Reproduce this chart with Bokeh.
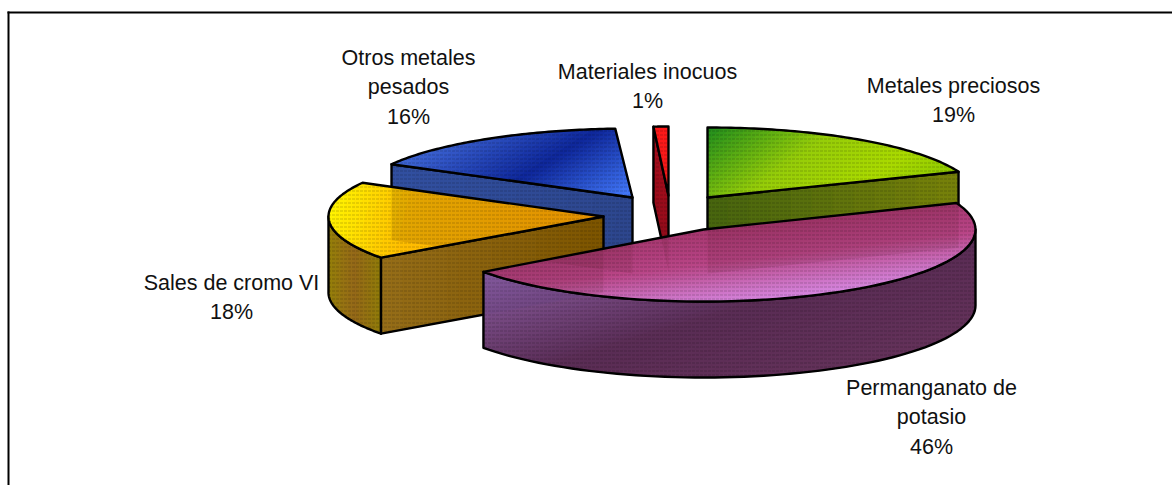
import numpy as np
from bokeh.plotting import figure
from bokeh.embed import file_html
from bokeh.resources import INLINE
from bokeh.core.properties import value
from bokeh.models import Range1d

categories = ["Metales preciosos", "Permanganato de potasio", "Sales de cromo VI",
              "Otros metales pesados", "Materiales inocuos"]
values = [19, 46, 18, 16, 1]
label_lines = [["Metales preciosos"], ["Permanganato de", "potasio"], ["Sales de cromo VI"],
               ["Otros metales", "pesados"], ["Materiales inocuos"]]

W, H = 1172, 485
p = figure(width=W, height=H, output_backend="svg", toolbar_location=None,
           x_range=Range1d(0, W), y_range=Range1d(H, 0), min_border=0)
p.axis.visible = False
p.grid.visible = False
p.outline_line_color = None
p.background_fill_color = "white"
p.border_fill_color = "white"

DEPTH = 76
APEX = [(707, 197), (703, 229), (603, 216), (632, 197), (668, 195)]
RX = [270, 272, 275, 275, 240]
RY = [70, 72, 70, 69, 69]

cum = np.cumsum([0] + values) / sum(values) * 2 * np.pi
A0, A1 = cum[:-1], cum[1:]


def rim(k, a, b, n=70):
    t = np.linspace(a, b, n)
    return np.column_stack([APEX[k][0] + RX[k] * np.sin(t), APEX[k][1] - RY[k] * np.cos(t)])


def down(pts, d=DEPTH):
    return np.asarray(pts) + [0, d]


def half_clip(poly, n, c, keep_ge=True):
    if len(poly) == 0:
        return poly
    s = poly @ n - c
    if not keep_ge:
        s = -s
    out = []
    m = len(poly)
    for i in range(m):
        a, b = poly[i], poly[(i + 1) % m]
        sa, sb = s[i], s[(i + 1) % m]
        if sa >= 0:
            out.append(a)
        if sa * sb < 0:
            out.append(a + (b - a) * sa / (sa - sb))
    return np.array(out) if out else np.zeros((0, 2))


def clip_convex(subject, clip):
    clip = np.asarray(clip, float)
    area = np.sum(clip[:, 0] * np.roll(clip[:, 1], -1) - np.roll(clip[:, 0], -1) * clip[:, 1])
    res = np.asarray(subject, float)
    for i in range(len(clip)):
        a, b = clip[i], clip[(i + 1) % len(clip)]
        e = b - a
        if np.hypot(*e) < 1e-9:
            continue
        n = np.array([-e[1], e[0]]) * (1 if area > 0 else -1)
        res = half_clip(res, n, n @ a)
        if len(res) == 0:
            break
    return res


def gradient(poly, direction, stops, bands=36):
    poly = np.asarray(poly, float)
    d = np.asarray(direction, float)
    d = d / np.hypot(*d)
    proj = poly @ d
    lo, hi = proj.min(), proj.max()
    edges = np.linspace(lo, hi, bands + 1)
    ts = [s[0] for s in stops]
    mid = stops[len(stops) // 2][1]
    p.patch(poly[:, 0].tolist(), poly[:, 1].tolist(), fill_color="#%02x%02x%02x" % tuple(mid),
            line_alpha=0)
    xs, ys, cs = [], [], []
    for i in range(bands):
        piece = half_clip(poly, d, edges[i])
        piece = half_clip(piece, d, edges[i + 1], keep_ge=False)
        if len(piece) < 3:
            continue
        t = ((edges[i] + edges[i + 1]) / 2 - lo) / max(hi - lo, 1e-6)
        col = [int(np.interp(t, ts, [s[1][j] for s in stops])) for j in range(3)]
        xs.append(piece[:, 0].tolist())
        ys.append(piece[:, 1].tolist())
        cs.append("#%02x%02x%02x" % tuple(col))
    p.patches(xs, ys, fill_color=cs, line_color=cs, line_width=1)
    texture(poly)


def texture(poly):
    p.patch(poly[:, 0].tolist(), poly[:, 1].tolist(), fill_alpha=0, line_alpha=0,
            hatch_pattern="horizontal_dash", hatch_color="#000000", hatch_alpha=0.2,
            hatch_scale=4, hatch_weight=1)


def outline(poly):
    poly = np.asarray(poly)
    p.patch(poly[:, 0].tolist(), poly[:, 1].tolist(), fill_alpha=0,
            line_color="black", line_width=2.4, line_join="round")


def ghost(poly, alpha=0.13, color="#301000"):
    if len(poly) >= 3:
        p.patch(poly[:, 0].tolist(), poly[:, 1].tolist(), fill_color=color, fill_alpha=alpha,
                line_alpha=0)


tops, radial_start, radial_end = [], [], []
for k in range(len(values)):
    ap = np.array([APEX[k]], float)
    arc = rim(k, A0[k], A1[k])
    tops.append(np.vstack([ap, arc]))
    radial_start.append(np.vstack([ap, arc[:1], down(arc[:1]), down(ap)]))
    radial_end.append(np.vstack([ap, arc[-1:], down(arc[-1:]), down(ap)]))

G, PU, Y, B, R = 0, 1, 2, 3, 4

# red
gradient(radial_start[R], (0, 1), [(0, (170, 15, 30)), (1, (140, 10, 25))], 6)
outline(radial_start[R])
gradient(tops[R], (0, 1), [(0, (255, 25, 25)), (1, (240, 25, 25))], 4)
outline(tops[R])

# blue
gradient(radial_start[B], (1, 0.2), [(0, (50, 80, 160)), (1, (45, 70, 140))], 10)
outline(radial_start[B])
gradient(tops[B], (1, 1.6), [(0, (65, 105, 215)), (0.52, (15, 40, 155)), (1, (70, 125, 255))])
outline(tops[B])

# green
gradient(radial_end[G], (1, 0), [(0, (70, 100, 15)), (1, (120, 130, 10))], 12)
outline(radial_end[G])
gradient(tops[G], (0.75, 1), [(0, (30, 140, 30)), (0.42, (150, 205, 10)), (0.75, (170, 218, 0)),
                              (1, (140, 200, 0))])
outline(tops[G])

# yellow
arc_y = rim(Y, A0[Y], np.radians(270))
rim_y = np.vstack([arc_y, down(arc_y)[::-1]])
gradient(rim_y, (1, 0), [(0, (150, 130, 10)), (0.5, (150, 105, 25)), (1, (145, 125, 10))], 24)
outline(rim_y)
gradient(radial_start[Y], (1, 0), [(0, (150, 110, 25)), (1, (125, 85, 0))], 20)
outline(radial_start[Y])
gradient(tops[Y], (1, 0.25), [(0, (255, 245, 0)), (0.3, (255, 190, 0)), (1, (255, 165, 0))])
ghost(clip_convex(radial_start[B], tops[Y]), 0.14)
outline(tops[Y])

# purple
arc_p = rim(PU, np.radians(90), A1[PU])
rim_p = np.vstack([arc_p, down(arc_p)[::-1]])
gradient(rim_p, (-0.3, -1), [(0, (100, 50, 90)), (0.45, (90, 45, 85)), (1, (140, 95, 165))], 40)
xs_g = np.linspace(arc_p[-1, 0], APEX[Y][0], 60)
low = np.interp(xs_g, [radial_start[Y][1, 0], APEX[Y][0]],
                [radial_start[Y][2, 1], radial_start[Y][3, 1]])
order = np.argsort(arc_p[:, 0])
up = np.interp(xs_g, arc_p[order, 0], arc_p[order, 1])
keep = low > up
if keep.sum() > 2:
    ghost(np.vstack([np.column_stack([xs_g[keep], up[keep]]),
                     np.column_stack([xs_g[keep], low[keep]])[::-1]]), 0.2, "#604080")
outline(rim_p)
gradient(tops[PU], (0.12, 1), [(0, (165, 55, 110)), (0.45, (185, 70, 135)), (0.8, (205, 115, 195)),
                               (1, (215, 135, 225))])
for wall in (radial_end[G], radial_start[R], radial_start[B], radial_start[Y]):
    ghost(clip_convex(wall, tops[PU]), 0.09, "#301000")
outline(tops[PU])

# frame
p.multi_line([[8, 8], [7, W]], [[11, H], [12, 12]], line_color="black", line_width=2)

# labels
LABEL_POS = [(953, 85), (931, 387), (231, 282), (408, 57), (647, 71)]
LINE = 29.5
tx, ty, tt = [], [], []
for k, lines in enumerate(label_lines):
    all_lines = lines + [f"{values[k]}%"]
    for i, s in enumerate(all_lines):
        tx.append(LABEL_POS[k][0])
        ty.append(LABEL_POS[k][1] + i * LINE)
        tt.append(s)
p.text(tx, ty, tt, text_font=value("Liberation Sans"), text_font_size="21.5px", text_align="center",
       text_baseline="middle", text_color="#111111")

open("out.html", "w").write(file_html(p, INLINE))
